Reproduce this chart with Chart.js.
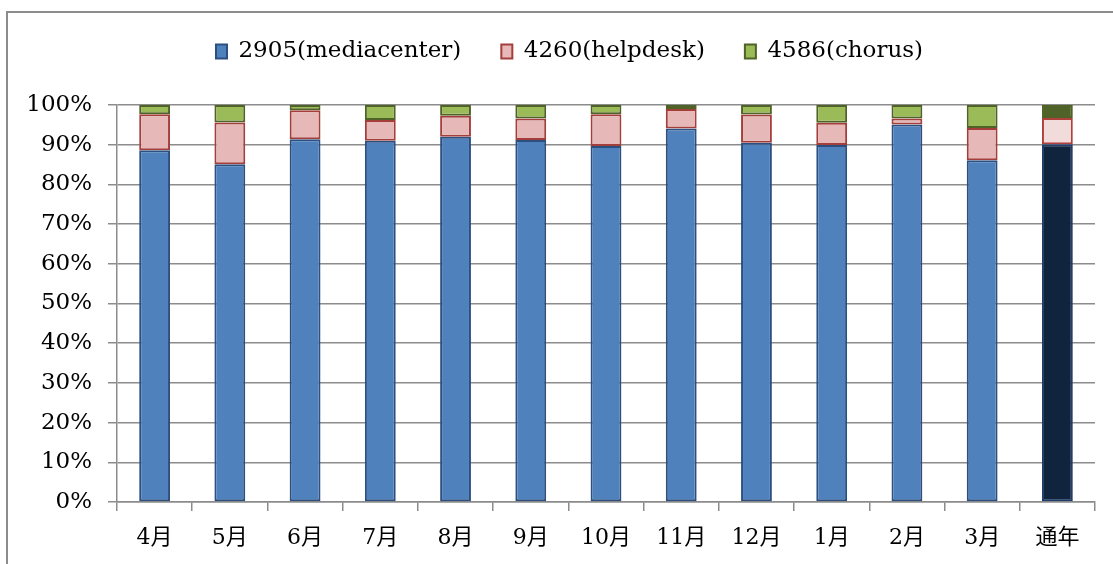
<!DOCTYPE html>
<html>
<head>
<meta charset="utf-8">
<script src="https://cdn.jsdelivr.net/npm/chart.js@4/dist/chart.umd.min.js"></script>
<style>
  body { margin: 0; background: #fff; }
  #wrap { position: relative; width: 1113px; height: 564px; }
</style>
</head>
<body>
<div id="wrap"><canvas id="grafico" width="1113" height="564"></canvas></div>
<script>
// valores (porcentaje por mes)
const meses = ['4月','5月','6月','7月','8月','9月','10月','11月','12月','1月','2月','3月','通年'];
const mediacenter = [88.6, 85.1, 91.4, 91.0, 92.0, 91.2, 89.7, 94.1, 90.5, 89.9, 95.1, 86.1, 90.1];
const helpdesk    = [ 9.1, 10.5,  7.3,  5.2,  5.3,  5.4,  8.0,  4.9,  7.1,  5.6,  1.5,  8.1,  6.6];
const chorus      = [ 2.3,  4.4,  1.3,  3.8,  2.7,  3.4,  2.3,  1.0,  2.4,  4.5,  3.4,  5.8,  3.3];
const ticksY = [0,10,20,30,40,50,60,70,80,90,100];

const fuente = '"DejaVu Serif", "Noto Sans CJK JP", serif';
const gris = '#8c8c8c';

// el ultimo (通年) va con otros colores
function colores(normal, ultimo) {
  return meses.map((m, i) => i === meses.length - 1 ? ultimo : normal);
}

const marco = {
  id: 'marco',
  beforeDraw(chart) {
    const ctx = chart.ctx;
    ctx.save();
    ctx.strokeStyle = gris;
    ctx.lineWidth = 2;
    ctx.beginPath();
    ctx.moveTo(7, 564);
    ctx.lineTo(7, 12);
    ctx.lineTo(1113, 12);
    ctx.stroke();
    ctx.restore();
  }
};

// leyenda mas alta y algo corrida a la derecha
const altoLeyenda = {
  id: 'altoLeyenda',
  beforeInit(chart) {
    const leg = chart.legend;
    const fit = leg.fit;
    leg.fit = function () {
      fit.bind(leg)();
      this.height = 105;
    };
    const draw = leg.draw;
    leg.draw = function () {
      this.left += 22; this.right += 22;
      draw.bind(leg)();
      this.left -= 22; this.right -= 22;
    };
  }
};

new Chart(document.getElementById('grafico'), {
  type: 'bar',
  data: {
    labels: meses,
    datasets: [{
      label: '2905(mediacenter)',
      data: mediacenter,
      backgroundColor: colores('#4f81bd', '#10243e'),
      borderColor: colores('#2c4f80', '#1f3d6b'),
      borderWidth: 2,
      borderSkipped: false
    }, {
      label: '4260(helpdesk)',
      data: helpdesk,
      backgroundColor: colores('#e6b9b8', '#f2dcdb'),
      borderColor: colores('#a33e3b', '#b0403d'),
      borderWidth: 2,
      borderSkipped: false
    }, {
      label: '4586(chorus)',
      data: chorus,
      backgroundColor: colores('#9bbb59', '#4f6228'),
      borderColor: colores('#4f6228', '#4f6228'),
      borderWidth: 2,
      borderSkipped: false
    }]
  },
  options: {
    responsive: false,
    animation: false,
    layout: { padding: { top: 0, right: 18, left: 0, bottom: 0 } },
    datasets: { bar: { categoryPercentage: 1, barPercentage: 0.41 } },
    plugins: {
      tooltip: { enabled: false },
      legend: {
        position: 'top',
        labels: {
          boxWidth: 11,
          boxHeight: 14,
          padding: 40,
          color: '#000',
          font: { family: fuente, size: 23 }
        }
      }
    },
    scales: {
      x: {
        stacked: true,
        grid: { display: true, drawOnChartArea: false, drawTicks: true, tickLength: 9, color: gris, lineWidth: 1.5 },
        border: { display: true, color: gris, width: 1.5 },
        ticks: { color: '#000', padding: 14, font: { family: fuente, size: 22 } },
        afterFit(scale) { scale.height = 62; }
      },
      y: {
        stacked: true,
        min: 0,
        max: 100,
        afterBuildTicks(scale) { scale.ticks = ticksY.map(v => ({ value: v })); },
        grid: { color: gris, lineWidth: 1.5, tickLength: 9 },
        border: { display: true, color: gris, width: 1.5 },
        ticks: { color: '#000', padding: 16, font: { family: fuente, size: 23 }, callback: v => v + '%' },
        afterFit(scale) { scale.width = 117; }
      }
    }
  },
  plugins: [marco, altoLeyenda]
});
</script>
</body>
</html>
